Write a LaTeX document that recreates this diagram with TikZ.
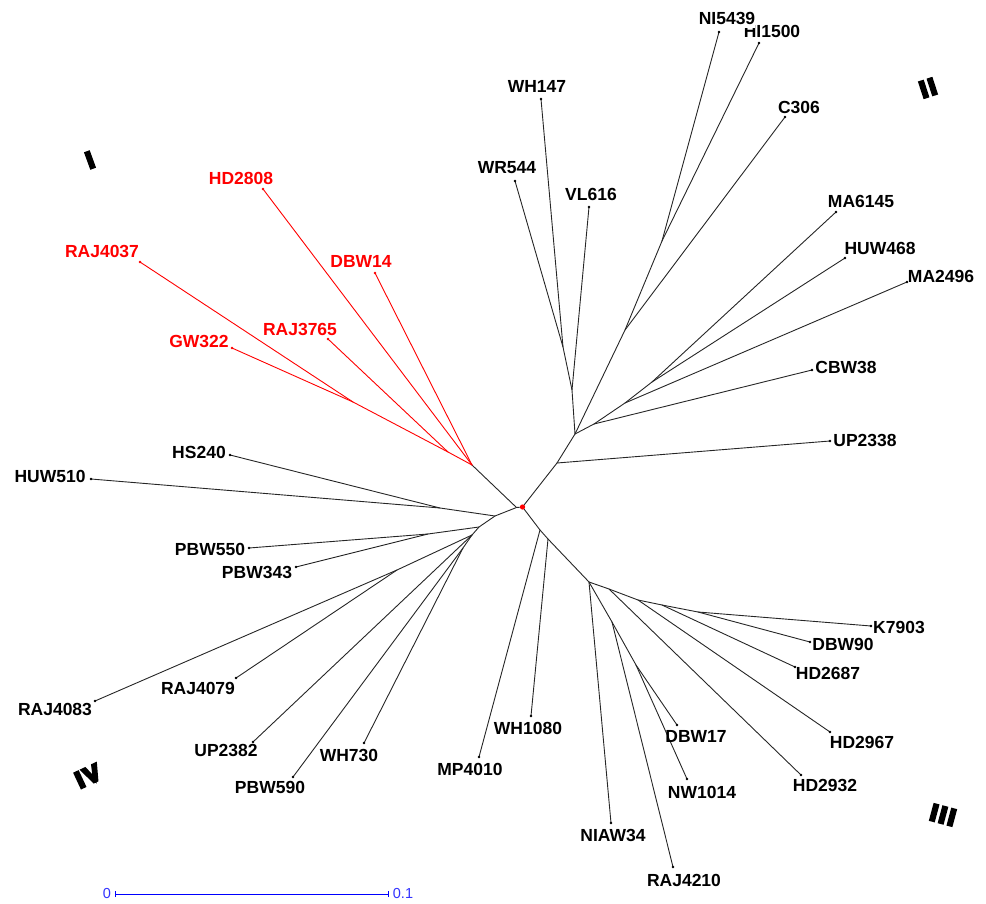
\documentclass[tikz,border=0pt]{standalone}
\usepackage{fontspec}
\setmainfont{Liberation Sans}
\newfontfamily\romfont[FakeBold=12, LetterSpace=12]{Liberation Sans Bold}
\begin{document}
\begin{tikzpicture}[x=1pt,y=-1pt,
  br/.style={line width=0.9pt, draw=black!85, line cap=round},
  redbr/.style={line width=0.9pt, draw=red, line cap=round},
  lbl/.style={font=\fontsize{17.5}{18}\selectfont\bfseries, inner sep=0pt, anchor=center},
  rlbl/.style={lbl, text=red},
  roman/.style={font=\fontsize{23}{25}\selectfont\romfont, inner sep=0pt},
  scalebar/.style={draw=blue, line width=1pt},
  scalelbl/.style={font=\fontsize{14.5}{16}\selectfont, text=blue!80, inner sep=0pt}]
\useasboundingbox (0,0) rectangle (986,904);
% ---------- internal nodes ----------
\coordinate (R) at (522.5,507);
\coordinate (P) at (516.5,507.5);
% cluster I
\coordinate (A) at (472,465);
\coordinate (B) at (448,452);
\coordinate (C) at (353,402);
% cluster IV
\coordinate (Q) at (495,516);
\coordinate (S) at (440,508);
\coordinate (T) at (479,527);
\coordinate (U) at (428,534);
\coordinate (T2) at (472,535);
\coordinate (W) at (397,570);
\coordinate (V) at (463,548);
% cluster III
\coordinate (AA) at (540,530);
\coordinate (BB) at (548,539);
\coordinate (D) at (589,582);
\coordinate (E) at (609,589);
\coordinate (X) at (638,600);
\coordinate (Y) at (662,605);
\coordinate (Z) at (698,612);
\coordinate (O) at (612,622);
\coordinate (OO) at (636,665);
% cluster II
\coordinate (G) at (557,463);
\coordinate (F) at (575,434);
\coordinate (H) at (572,390);
\coordinate (K) at (563,347);
\coordinate (I) at (625,330);
\coordinate (J) at (662,241);
\coordinate (L) at (594,424);
\coordinate (M) at (625,403);
\coordinate (N) at (652,382);
% ---------- tips ----------
\coordinate (tHD2808) at (263,189);
\coordinate (tDBW14) at (375,273);
\coordinate (tRAJ3765) at (328,339);
\coordinate (tGW322) at (232,348);
\coordinate (tRAJ4037) at (140,262);
\coordinate (tHS240) at (230,455);
\coordinate (tHUW510) at (91,479);
\coordinate (tPBW550) at (249,548);
\coordinate (tPBW343) at (296,567);
\coordinate (tRAJ4083) at (95,701);
\coordinate (tRAJ4079) at (236,678);
\coordinate (tUP2382) at (253,742);
\coordinate (tPBW590) at (293,777);
\coordinate (tWH730) at (364,743);
\coordinate (tMP4010) at (479,757);
\coordinate (tWH1080) at (531,716);
\coordinate (tK7903) at (871,626);
\coordinate (tDBW90) at (810,642);
\coordinate (tHD2687) at (795,667);
\coordinate (tHD2967) at (830,732);
\coordinate (tHD2932) at (801,775);
\coordinate (tDBW17) at (677,725);
\coordinate (tNW1014) at (687,779);
\coordinate (tNIAW34) at (611,823);
\coordinate (tRAJ4210) at (673,867);
\coordinate (tUP2338) at (830,441);
\coordinate (tWH147) at (541,99);
\coordinate (tWR544) at (515,181);
\coordinate (tVL616) at (589,207);
\coordinate (tC306) at (785,117);
\coordinate (tNI5439) at (719,32);
\coordinate (tHI1500) at (759,43);
\coordinate (tCBW38) at (812,370);
\coordinate (tMA2496) at (907,282);
\coordinate (tMA6145) at (836,212);
\coordinate (tHUW468) at (845,258);
% ---------- branches ----------
\draw[br] (R) -- (P);
\draw[br] (P) -- (A);
\draw[redbr] (A) -- (tHD2808);
\draw[redbr] (A) -- (tDBW14);
\draw[redbr] (A) -- (B) -- (tRAJ3765);
\draw[redbr] (B) -- (C) -- (tGW322);
\draw[redbr] (C) -- (tRAJ4037);
% IV
\draw[br] (P) -- (Q) -- (S) -- (tHS240);
\draw[br] (S) -- (tHUW510);
\draw[br] (Q) -- (T) -- (U) -- (tPBW550);
\draw[br] (U) -- (tPBW343);
\draw[br] (T) -- (T2) -- (W) -- (tRAJ4083);
\draw[br] (W) -- (tRAJ4079);
\draw[br] (T2) -- (tUP2382);
\draw[br] (T2) -- (V) -- (tPBW590);
\draw[br] (V) -- (tWH730);
% III
\draw[br] (R) -- (AA) -- (tMP4010);
\draw[br] (AA) -- (BB) -- (tWH1080);
\draw[br] (BB) -- (D) -- (E) -- (tHD2932);
\draw[br] (E) -- (X) -- (tHD2967);
\draw[br] (X) -- (Y) -- (tHD2687);
\draw[br] (Y) -- (Z) -- (tK7903);
\draw[br] (Z) -- (tDBW90);
\draw[br] (D) -- (tNIAW34);
\draw[br] (D) -- (O) -- (tRAJ4210);
\draw[br] (O) -- (OO) -- (tDBW17);
\draw[br] (OO) -- (tNW1014);
% II
\draw[br] (R) -- (G) -- (tUP2338);
\draw[br] (G) -- (F) -- (H) -- (K) -- (tWH147);
\draw[br] (K) -- (tWR544);
\draw[br] (H) -- (tVL616);
\draw[br] (F) -- (I) -- (tC306);
\draw[br] (I) -- (J) -- (tHI1500);
\draw[br] (J) -- (tNI5439);
\draw[br] (F) -- (L) -- (tCBW38);
\draw[br] (L) -- (M) -- (tMA2496);
\draw[br] (M) -- (N) -- (tMA6145);
\draw[br] (N) -- (tHUW468);
% ---------- tip dots ----------
\foreach \t in {tDBW14,tHD2808,tRAJ3765,tGW322,tRAJ4037}
  \fill[red] (\t) circle (1.4pt);
\foreach \t in {tHS240,tHUW510,tPBW550,tPBW343,tRAJ4083,tRAJ4079,tUP2382,tPBW590,tWH730,
  tMP4010,tWH1080,tK7903,tDBW90,tHD2687,tHD2967,tHD2932,tDBW17,tNW1014,tNIAW34,tRAJ4210,
  tUP2338,tWH147,tWR544,tVL616,tC306,tNI5439,tHI1500,tCBW38,tMA2496,tMA6145,tHUW468}
  \fill[black] (\t) circle (1.4pt);
\fill[red] (R) circle (2.6pt);
% ---------- labels ----------
\node[rlbl] (lHD2808) at (241,178) {HD2808};
\node[rlbl] (lDBW14) at (361,261) {DBW14};
\node[rlbl] (lRAJ3765) at (300,329) {RAJ3765};
\node[rlbl] (lGW322) at (199,341) {GW322};
\node[rlbl] (lRAJ4037) at (102,251) {RAJ4037};
\node[lbl] (lHS240) at (199,452) {HS240};
\node[lbl] (lHUW510) at (50,476) {HUW510};
\node[lbl] (lPBW550) at (210,549) {PBW550};
\node[lbl] (lPBW343) at (257,572) {PBW343};
\node[lbl] (lRAJ4083) at (55,709) {RAJ4083};
\node[lbl] (lRAJ4079) at (198,688) {RAJ4079};
\node[lbl] (lUP2382) at (226,750) {UP2382};
\node[lbl] (lPBW590) at (270,787) {PBW590};
\node[lbl] (lWH730) at (349,755) {WH730};
\node[lbl] (lMP4010) at (470,769) {MP4010};
\node[lbl] (lWH1080) at (528,728) {WH1080};
\node[lbl] (lK7903) at (899,627) {K7903};
\node[lbl] (lDBW90) at (843,644) {DBW90};
\node[lbl] (lHD2687) at (828,673) {HD2687};
\node[lbl] (lHD2967) at (862,742) {HD2967};
\node[lbl] (lHD2932) at (825,785) {HD2932};
\node[lbl] (lDBW17) at (696,736) {DBW17};
\node[lbl] (lNW1014) at (702,792) {NW1014};
\node[lbl] (lNIAW34) at (613,835) {NIAW34};
\node[lbl] (lRAJ4210) at (684,880) {RAJ4210};
\node[lbl] (lHI1500) at (772,31.5) {HI1500};
\node[lbl, fill=white, inner ysep=4pt] (lNI5439) at (727,18) {NI5439};
\node[lbl] (lC306) at (799,107) {C306};
\node[lbl] (lWH147) at (537,86) {WH147};
\node[lbl] (lWR544) at (507,168) {WR544};
\node[lbl] (lVL616) at (591,194) {VL616};
\node[lbl] (lMA6145) at (861,201) {MA6145};
\node[lbl] (lHUW468) at (880,248) {HUW468};
\node[lbl] (lMA2496) at (941,276) {MA2496};
\node[lbl] (lCBW38) at (846,367) {CBW38};
\node[lbl] (lUP2338) at (865,440) {UP2338};
% ---------- cluster numerals ----------
\node[roman, rotate=20] (cI) at (90,160) {I};
\node[roman, rotate=18] (cII) at (928,88) {II};
\node[roman, rotate=-15] (cIII) at (943,815) {III};
\node[roman, rotate=25] (cIV) at (88,776) {IV};
% ---------- scale bar ----------
\coordinate (s0) at (115,894);
\coordinate (s1) at (388,894);
\draw[scalebar] (s0) -- (s1);
\draw[scalebar] ([yshift=-3pt]s0) -- ([yshift=3pt]s0);
\draw[scalebar] ([yshift=-3pt]s1) -- ([yshift=3pt]s1);
\node[scalelbl] (sl0) at (107,894) {0};
\node[scalelbl] (sl1) at (403,894) {0.1};
\end{tikzpicture}
\end{document}
